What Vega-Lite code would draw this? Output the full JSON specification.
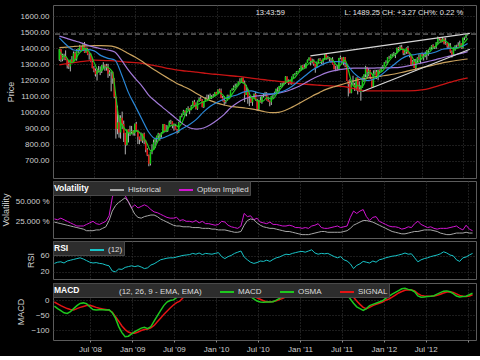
{
"$schema":"https://vega.github.io/schema/vega-lite/v6.json",
"background":"#000000",
"padding":{"left":0,"top":4,"right":4,"bottom":2},
"spacing":1,
"config":{
 "view":{"stroke":"#5c5c5c","strokeWidth":1},
 "font":"Liberation Sans",
 "axis":{"domain":false,"ticks":false,"grid":true,"gridColor":"#3a3a3a","gridDash":[1,2],"labelColor":"#cfcfcf","labelFont":"Liberation Sans","labelFontSize":8,"labelPadding":4,"labelOverlap":false,"titleColor":"#cfcfcf","titleFont":"Liberation Sans","titleFontSize":9,"titleFontWeight":"normal","titlePadding":5},
 "legend":{"orient":"top-left","direction":"horizontal","titleOrient":"left","fillColor":"#2d2d2d","strokeColor":"#4a4a4a","padding":1,"offset":0,"symbolType":"stroke","symbolSize":196,"symbolStrokeWidth":2,"labelColor":"#dddddd","labelFont":"Liberation Sans","labelFontSize":8,"titleColor":"#ffffff","titleFont":"Liberation Sans","titleFontSize":8.5,"titleFontWeight":"bold","titlePadding":20,"columnPadding":14,"labelOffset":3}
},
"resolve":{"scale":{"color":"independent","x":"independent","y":"independent"},"legend":{"color":"independent"}},
"datasets":{
"w":[
{"d":"2008-01-28","o":1330,"h":1396,"l":1322,"c":1395},{"d":"2008-02-04","o":1395,"h":1396,"l":1316,"c":1331},{"d":"2008-02-11","o":1331,"h":1367,"l":1320,"c":1349},{"d":"2008-02-18","o":1349,"h":1367,"l":1327,"c":1353},{"d":"2008-02-25","o":1353,"h":1388,"l":1327,"c":1331},{"d":"2008-03-03","o":1331,"h":1335,"l":1275,"c":1294},{"d":"2008-03-10","o":1294,"h":1321,"l":1272,"c":1288},{"d":"2008-03-17","o":1288,"h":1330,"l":1257,"c":1330},{"d":"2008-03-24","o":1330,"h":1352,"l":1310,"c":1316},{"d":"2008-03-31","o":1316,"h":1381,"l":1315,"c":1370},{"d":"2008-04-07","o":1370,"h":1380,"l":1327,"c":1333},{"d":"2008-04-14","o":1333,"h":1395,"l":1324,"c":1390},{"d":"2008-04-21","o":1390,"h":1400,"l":1370,"c":1398},{"d":"2008-04-28","o":1398,"h":1422,"l":1384,"c":1413},{"d":"2008-05-05","o":1413,"h":1415,"l":1384,"c":1388},{"d":"2008-05-12","o":1388,"h":1426,"l":1386,"c":1425},{"d":"2008-05-19","o":1425,"h":1440,"l":1373,"c":1375},{"d":"2008-05-26","o":1375,"h":1406,"l":1373,"c":1400},{"d":"2008-06-02","o":1400,"h":1404,"l":1358,"c":1361},{"d":"2008-06-09","o":1361,"h":1370,"l":1330,"c":1360},{"d":"2008-06-16","o":1360,"h":1370,"l":1314,"c":1318},{"d":"2008-06-23","o":1318,"h":1336,"l":1276,"c":1278},{"d":"2008-06-30","o":1278,"h":1290,"l":1252,"c":1262},{"d":"2008-07-07","o":1262,"h":1275,"l":1225,"c":1239},{"d":"2008-07-14","o":1239,"h":1266,"l":1200,"c":1260},{"d":"2008-07-21","o":1260,"h":1291,"l":1250,"c":1257},{"d":"2008-07-28","o":1257,"h":1288,"l":1234,"c":1260},{"d":"2008-08-04","o":1260,"h":1297,"l":1247,"c":1296},{"d":"2008-08-11","o":1296,"h":1314,"l":1275,"c":1298},{"d":"2008-08-18","o":1298,"h":1300,"l":1261,"c":1293},{"d":"2008-08-25","o":1293,"h":1304,"l":1262,"c":1283},{"d":"2008-09-01","o":1283,"h":1304,"l":1217,"c":1242},{"d":"2008-09-08","o":1242,"h":1265,"l":1228,"c":1252},{"d":"2008-09-15","o":1252,"h":1256,"l":1133,"c":1255},{"d":"2008-09-22","o":1255,"h":1255,"l":1180,"c":1213},{"d":"2008-09-29","o":1213,"h":1214,"l":1090,"c":1099},{"d":"2008-10-06","o":1099,"h":1099,"l":839,"c":899},{"d":"2008-10-13","o":899,"h":1044,"l":866,"c":940},{"d":"2008-10-20","o":940,"h":985,"l":845,"c":877},{"d":"2008-10-27","o":877,"h":984,"l":839,"c":968},{"d":"2008-11-03","o":968,"h":1007,"l":899,"c":930},{"d":"2008-11-10","o":930,"h":951,"l":818,"c":873},{"d":"2008-11-17","o":873,"h":875,"l":741,"c":800},{"d":"2008-11-24","o":800,"h":896,"l":796,"c":896},{"d":"2008-12-01","o":896,"h":896,"l":815,"c":876},{"d":"2008-12-08","o":876,"h":919,"l":855,"c":879},{"d":"2008-12-15","o":879,"h":918,"l":869,"c":887},{"d":"2008-12-22","o":887,"h":892,"l":858,"c":872},{"d":"2008-12-29","o":872,"h":932,"l":857,"c":931},
{"d":"2009-01-05","o":931,"h":943,"l":883,"c":890},{"d":"2009-01-12","o":890,"h":891,"l":805,"c":850},{"d":"2009-01-19","o":850,"h":851,"l":804,"c":832},{"d":"2009-01-26","o":832,"h":877,"l":821,"c":826},{"d":"2009-02-02","o":826,"h":870,"l":812,"c":869},{"d":"2009-02-09","o":869,"h":876,"l":804,"c":827},{"d":"2009-02-16","o":827,"h":828,"l":754,"c":770},{"d":"2009-02-23","o":770,"h":780,"l":730,"c":735},{"d":"2009-03-02","o":735,"h":740,"l":667,"c":683},{"d":"2009-03-09","o":683,"h":758,"l":672,"c":756},{"d":"2009-03-16","o":756,"h":804,"l":742,"c":768},{"d":"2009-03-23","o":768,"h":833,"l":768,"c":816},{"d":"2009-03-30","o":816,"h":845,"l":780,"c":843},{"d":"2009-04-06","o":843,"h":857,"l":814,"c":857},{"d":"2009-04-13","o":857,"h":875,"l":836,"c":870},{"d":"2009-04-20","o":870,"h":872,"l":826,"c":866},{"d":"2009-04-27","o":866,"h":878,"l":845,"c":877},{"d":"2009-05-04","o":877,"h":930,"l":871,"c":929},{"d":"2009-05-11","o":929,"h":930,"l":878,"c":883},{"d":"2009-05-18","o":883,"h":924,"l":879,"c":887},{"d":"2009-05-25","o":887,"h":920,"l":881,"c":919},{"d":"2009-06-01","o":919,"h":951,"l":916,"c":940},{"d":"2009-06-08","o":940,"h":956,"l":928,"c":946},{"d":"2009-06-15","o":946,"h":946,"l":903,"c":921},{"d":"2009-06-22","o":921,"h":934,"l":888,"c":918},{"d":"2009-06-29","o":918,"h":931,"l":896,"c":896},{"d":"2009-07-06","o":896,"h":899,"l":869,"c":879},{"d":"2009-07-13","o":879,"h":943,"l":875,"c":940},{"d":"2009-07-20","o":940,"h":980,"l":940,"c":979},{"d":"2009-07-27","o":979,"h":996,"l":971,"c":987},{"d":"2009-08-03","o":987,"h":1018,"l":987,"c":1010},{"d":"2009-08-10","o":1010,"h":1015,"l":980,"c":1005},{"d":"2009-08-17","o":1005,"h":1028,"l":978,"c":1026},{"d":"2009-08-24","o":1026,"h":1040,"l":1016,"c":1029},{"d":"2009-08-31","o":1029,"h":1029,"l":991,"c":1016},{"d":"2009-09-07","o":1016,"h":1049,"l":1016,"c":1042},{"d":"2009-09-14","o":1042,"h":1074,"l":1040,"c":1068},{"d":"2009-09-21","o":1068,"h":1080,"l":1040,"c":1044},{"d":"2009-09-28","o":1044,"h":1064,"l":1020,"c":1025},{"d":"2009-10-05","o":1025,"h":1076,"l":1018,"c":1071},{"d":"2009-10-12","o":1071,"h":1096,"l":1067,"c":1087},{"d":"2009-10-19","o":1087,"h":1101,"l":1074,"c":1080},{"d":"2009-10-26","o":1080,"h":1084,"l":1033,"c":1036},{"d":"2009-11-02","o":1036,"h":1071,"l":1029,"c":1069},{"d":"2009-11-09","o":1069,"h":1097,"l":1069,"c":1093},{"d":"2009-11-16","o":1093,"h":1113,"l":1085,"c":1091},{"d":"2009-11-23","o":1091,"h":1112,"l":1079,"c":1091},{"d":"2009-11-30","o":1091,"h":1119,"l":1086,"c":1106},{"d":"2009-12-07","o":1106,"h":1110,"l":1085,"c":1106},{"d":"2009-12-14","o":1106,"h":1117,"l":1095,"c":1102},{"d":"2009-12-21","o":1102,"h":1129,"l":1102,"c":1127},{"d":"2009-12-28","o":1127,"h":1130,"l":1115,"c":1115},
{"d":"2010-01-04","o":1115,"h":1145,"l":1115,"c":1145},{"d":"2010-01-11","o":1145,"h":1150,"l":1131,"c":1136},{"d":"2010-01-18","o":1136,"h":1150,"l":1091,"c":1092},{"d":"2010-01-25","o":1092,"h":1104,"l":1071,"c":1074},{"d":"2010-02-01","o":1074,"h":1104,"l":1044,"c":1066},{"d":"2010-02-08","o":1066,"h":1079,"l":1056,"c":1075},{"d":"2010-02-15","o":1075,"h":1112,"l":1075,"c":1109},{"d":"2010-02-22","o":1109,"h":1112,"l":1086,"c":1105},{"d":"2010-03-01","o":1105,"h":1139,"l":1105,"c":1139},{"d":"2010-03-08","o":1139,"h":1151,"l":1137,"c":1150},{"d":"2010-03-15","o":1150,"h":1170,"l":1142,"c":1160},{"d":"2010-03-22","o":1160,"h":1181,"l":1155,"c":1167},{"d":"2010-03-29","o":1167,"h":1182,"l":1161,"c":1179},{"d":"2010-04-05","o":1179,"h":1194,"l":1175,"c":1194},{"d":"2010-04-12","o":1194,"h":1214,"l":1186,"c":1192},{"d":"2010-04-19","o":1192,"h":1217,"l":1187,"c":1217},{"d":"2010-04-26","o":1217,"h":1220,"l":1181,"c":1187},{"d":"2010-05-03","o":1187,"h":1200,"l":1066,"c":1111},{"d":"2010-05-10","o":1111,"h":1174,"l":1111,"c":1136},{"d":"2010-05-17","o":1136,"h":1148,"l":1056,"c":1088},{"d":"2010-05-24","o":1088,"h":1104,"l":1041,"c":1089},{"d":"2010-05-31","o":1089,"h":1106,"l":1061,"c":1065},{"d":"2010-06-07","o":1065,"h":1092,"l":1043,"c":1092},{"d":"2010-06-14","o":1092,"h":1120,"l":1090,"c":1117},{"d":"2010-06-21","o":1117,"h":1131,"l":1074,"c":1076},{"d":"2010-06-28","o":1076,"h":1087,"l":1011,"c":1022},{"d":"2010-07-05","o":1022,"h":1078,"l":1011,"c":1078},{"d":"2010-07-12","o":1078,"h":1100,"l":1063,"c":1065},{"d":"2010-07-19","o":1065,"h":1103,"l":1056,"c":1102},{"d":"2010-07-26","o":1102,"h":1120,"l":1095,"c":1102},{"d":"2010-08-02","o":1102,"h":1130,"l":1102,"c":1121},{"d":"2010-08-09","o":1121,"h":1128,"l":1076,"c":1079},{"d":"2010-08-16","o":1079,"h":1100,"l":1068,"c":1071},{"d":"2010-08-23","o":1071,"h":1076,"l":1040,"c":1065},{"d":"2010-08-30","o":1065,"h":1105,"l":1048,"c":1104},{"d":"2010-09-06","o":1104,"h":1111,"l":1091,"c":1110},{"d":"2010-09-13","o":1110,"h":1131,"l":1108,"c":1125},{"d":"2010-09-20","o":1125,"h":1149,"l":1122,"c":1149},{"d":"2010-09-27","o":1149,"h":1158,"l":1131,"c":1147},{"d":"2010-10-04","o":1147,"h":1167,"l":1131,"c":1166},{"d":"2010-10-11","o":1166,"h":1184,"l":1160,"c":1176},{"d":"2010-10-18","o":1176,"h":1186,"l":1159,"c":1183},{"d":"2010-10-25","o":1183,"h":1196,"l":1171,"c":1183},{"d":"2010-11-01","o":1183,"h":1227,"l":1179,"c":1225},{"d":"2010-11-08","o":1225,"h":1226,"l":1194,"c":1200},{"d":"2010-11-15","o":1200,"h":1207,"l":1173,"c":1199},{"d":"2010-11-22","o":1199,"h":1204,"l":1176,"c":1189},{"d":"2010-11-29","o":1189,"h":1225,"l":1174,"c":1224},{"d":"2010-12-06","o":1224,"h":1241,"l":1217,"c":1240},{"d":"2010-12-13","o":1240,"h":1247,"l":1232,"c":1244},{"d":"2010-12-20","o":1244,"h":1259,"l":1241,"c":1257},{"d":"2010-12-27","o":1257,"h":1261,"l":1251,"c":1258},
{"d":"2011-01-03","o":1258,"h":1278,"l":1257,"c":1271},{"d":"2011-01-10","o":1271,"h":1294,"l":1262,"c":1293},{"d":"2011-01-17","o":1293,"h":1296,"l":1271,"c":1283},{"d":"2011-01-24","o":1283,"h":1302,"l":1275,"c":1276},{"d":"2011-01-31","o":1276,"h":1311,"l":1276,"c":1310},{"d":"2011-02-07","o":1310,"h":1331,"l":1310,"c":1329},{"d":"2011-02-14","o":1329,"h":1344,"l":1324,"c":1343},{"d":"2011-02-21","o":1343,"h":1343,"l":1294,"c":1320},{"d":"2011-02-28","o":1320,"h":1336,"l":1306,"c":1321},{"d":"2011-03-07","o":1321,"h":1332,"l":1292,"c":1304},{"d":"2011-03-14","o":1304,"h":1304,"l":1249,"c":1279},{"d":"2011-03-21","o":1279,"h":1319,"l":1279,"c":1313},{"d":"2011-03-28","o":1313,"h":1337,"l":1307,"c":1332},{"d":"2011-04-04","o":1332,"h":1340,"l":1322,"c":1328},{"d":"2011-04-11","o":1328,"h":1329,"l":1303,"c":1320},{"d":"2011-04-18","o":1320,"h":1338,"l":1295,"c":1337},{"d":"2011-04-25","o":1337,"h":1364,"l":1331,"c":1364},{"d":"2011-05-02","o":1364,"h":1370,"l":1330,"c":1340},{"d":"2011-05-09","o":1340,"h":1354,"l":1332,"c":1338},{"d":"2011-05-16","o":1338,"h":1346,"l":1318,"c":1333},{"d":"2011-05-23","o":1333,"h":1334,"l":1311,"c":1331},{"d":"2011-05-30","o":1331,"h":1346,"l":1300,"c":1300},{"d":"2011-06-06","o":1300,"h":1302,"l":1270,"c":1271},{"d":"2011-06-13","o":1271,"h":1292,"l":1258,"c":1271},{"d":"2011-06-20","o":1271,"h":1298,"l":1262,"c":1268},{"d":"2011-06-27","o":1268,"h":1341,"l":1268,"c":1340},{"d":"2011-07-04","o":1340,"h":1356,"l":1333,"c":1344},{"d":"2011-07-11","o":1344,"h":1344,"l":1307,"c":1316},{"d":"2011-07-18","o":1316,"h":1347,"l":1295,"c":1345},{"d":"2011-07-25","o":1345,"h":1346,"l":1283,"c":1292},{"d":"2011-08-01","o":1292,"h":1307,"l":1199,"c":1199},{"d":"2011-08-08","o":1199,"h":1200,"l":1101,"c":1179},{"d":"2011-08-15","o":1179,"h":1208,"l":1120,"c":1124},{"d":"2011-08-22","o":1124,"h":1191,"l":1121,"c":1177},{"d":"2011-08-29","o":1177,"h":1230,"l":1170,"c":1174},{"d":"2011-09-05","o":1174,"h":1186,"l":1136,"c":1154},{"d":"2011-09-12","o":1154,"h":1220,"l":1137,"c":1216},{"d":"2011-09-19","o":1216,"h":1220,"l":1114,"c":1136},{"d":"2011-09-26","o":1136,"h":1195,"l":1129,"c":1131},{"d":"2011-10-03","o":1131,"h":1171,"l":1075,"c":1155},{"d":"2011-10-10","o":1155,"h":1224,"l":1155,"c":1224},{"d":"2011-10-17","o":1224,"h":1239,"l":1191,"c":1238},{"d":"2011-10-24","o":1238,"h":1292,"l":1221,"c":1285},{"d":"2011-10-31","o":1285,"h":1285,"l":1215,"c":1253},{"d":"2011-11-07","o":1253,"h":1277,"l":1226,"c":1263},{"d":"2011-11-14","o":1263,"h":1267,"l":1209,"c":1216},{"d":"2011-11-21","o":1216,"h":1216,"l":1158,"c":1159},{"d":"2011-11-28","o":1159,"h":1264,"l":1159,"c":1244},{"d":"2011-12-05","o":1244,"h":1267,"l":1231,"c":1255},{"d":"2011-12-12","o":1255,"h":1266,"l":1209,"c":1219},{"d":"2011-12-19","o":1219,"h":1268,"l":1202,"c":1265},{"d":"2011-12-26","o":1265,"h":1269,"l":1248,"c":1258},
{"d":"2012-01-02","o":1258,"h":1285,"l":1258,"c":1278},{"d":"2012-01-09","o":1278,"h":1297,"l":1275,"c":1289},{"d":"2012-01-16","o":1289,"h":1315,"l":1289,"c":1315},{"d":"2012-01-23","o":1315,"h":1326,"l":1306,"c":1316},{"d":"2012-01-30","o":1316,"h":1345,"l":1300,"c":1345},{"d":"2012-02-06","o":1345,"h":1354,"l":1335,"c":1343},{"d":"2012-02-13","o":1343,"h":1363,"l":1340,"c":1361},{"d":"2012-02-20","o":1361,"h":1368,"l":1352,"c":1366},{"d":"2012-02-27","o":1366,"h":1378,"l":1354,"c":1370},{"d":"2012-03-05","o":1370,"h":1372,"l":1340,"c":1371},{"d":"2012-03-12","o":1371,"h":1405,"l":1370,"c":1404},{"d":"2012-03-19","o":1404,"h":1409,"l":1386,"c":1397},{"d":"2012-03-26","o":1397,"h":1420,"l":1391,"c":1408},{"d":"2012-04-02","o":1408,"h":1422,"l":1392,"c":1398},{"d":"2012-04-09","o":1398,"h":1398,"l":1358,"c":1370},{"d":"2012-04-16","o":1370,"h":1392,"l":1358,"c":1378},{"d":"2012-04-23","o":1378,"h":1406,"l":1366,"c":1403},{"d":"2012-04-30","o":1403,"h":1415,"l":1367,"c":1369},{"d":"2012-05-07","o":1369,"h":1370,"l":1344,"c":1353},{"d":"2012-05-14","o":1353,"h":1354,"l":1291,"c":1295},{"d":"2012-05-21","o":1295,"h":1328,"l":1295,"c":1318},{"d":"2012-05-28","o":1318,"h":1334,"l":1278,"c":1278},{"d":"2012-06-04","o":1278,"h":1335,"l":1267,"c":1325},{"d":"2012-06-11","o":1325,"h":1345,"l":1306,"c":1343},{"d":"2012-06-18","o":1343,"h":1364,"l":1324,"c":1335},{"d":"2012-06-25","o":1335,"h":1362,"l":1306,"c":1362},{"d":"2012-07-02","o":1362,"h":1375,"l":1348,"c":1355},{"d":"2012-07-09","o":1355,"h":1365,"l":1325,"c":1357},{"d":"2012-07-16","o":1357,"h":1380,"l":1345,"c":1363},{"d":"2012-07-23","o":1363,"h":1390,"l":1329,"c":1386},{"d":"2012-07-30","o":1386,"h":1394,"l":1354,"c":1391},{"d":"2012-08-06","o":1391,"h":1406,"l":1391,"c":1405},{"d":"2012-08-13","o":1405,"h":1420,"l":1397,"c":1418},{"d":"2012-08-20","o":1418,"h":1426,"l":1398,"c":1411},{"d":"2012-08-27","o":1411,"h":1413,"l":1397,"c":1407},{"d":"2012-09-03","o":1407,"h":1438,"l":1397,"c":1438},{"d":"2012-09-10","o":1438,"h":1474,"l":1429,"c":1466},{"d":"2012-09-17","o":1466,"h":1467,"l":1449,"c":1460},{"d":"2012-09-24","o":1460,"h":1460,"l":1435,"c":1441},{"d":"2012-10-01","o":1441,"h":1470,"l":1439,"c":1461},{"d":"2012-10-08","o":1461,"h":1464,"l":1425,"c":1429},{"d":"2012-10-15","o":1429,"h":1466,"l":1423,"c":1433},{"d":"2012-10-22","o":1433,"h":1435,"l":1403,"c":1412},{"d":"2012-10-29","o":1412,"h":1434,"l":1403,"c":1414},{"d":"2012-11-05","o":1414,"h":1433,"l":1373,"c":1380},{"d":"2012-11-12","o":1380,"h":1388,"l":1343,"c":1360},{"d":"2012-11-19","o":1360,"h":1409,"l":1360,"c":1409},{"d":"2012-11-26","o":1409,"h":1420,"l":1385,"c":1416},{"d":"2012-12-03","o":1416,"h":1423,"l":1398,"c":1418},{"d":"2012-12-10","o":1418,"h":1438,"l":1412,"c":1413},{"d":"2012-12-17","o":1413,"h":1448,"l":1412,"c":1430},{"d":"2012-12-24","o":1430,"h":1431,"l":1398,"c":1402},{"d":"2012-12-31","o":1402,"h":1467,"l":1398,"c":1466},{"d":"2013-01-07","o":1466,"h":1472,"l":1451,"c":1472},{"d":"2013-01-14","o":1472,"h":1486,"l":1463,"c":1486},{"d":"2013-01-21","o":1486,"h":1490,"l":1481,"c":1489}
],
"i":[
{"d":"2008-01-28","g":1385,"hv":24,"iv":28,"rsi":41,"m":-20,"s":-6},{"d":"2008-02-11","g":1355,"hv":23,"iv":27,"rsi":44,"m":-28,"s":-12},{"d":"2008-02-25","g":1350,"hv":22,"iv":29,"rsi":45,"m":-35,"s":-18},{"d":"2008-03-10","g":1323,"hv":21,"iv":27,"rsi":42,"m":-42,"s":-23},{"d":"2008-03-24","g":1312,"hv":20,"iv":25,"rsi":47,"m":-44,"s":-28},{"d":"2008-04-07","g":1327,"hv":19,"iv":23,"rsi":49,"m":-38,"s":-31},{"d":"2008-04-21","g":1361,"hv":18,"iv":21,"rsi":51,"m":-28,"s":-33},{"d":"2008-05-05","g":1384,"hv":17,"iv":19,"rsi":53,"m":-18,"s":-28},{"d":"2008-05-19","g":1400,"hv":16,"iv":19,"rsi":55,"m":-11,"s":-24},{"d":"2008-06-02","g":1390,"hv":15,"iv":19,"rsi":52,"m":-9,"s":-21},{"d":"2008-06-16","g":1363,"hv":13,"iv":21,"rsi":48,"m":-12,"s":-18},{"d":"2008-06-30","g":1316,"hv":13,"iv":23,"rsi":44,"m":-22,"s":-17},{"d":"2008-07-14","g":1271,"hv":13,"iv":25,"rsi":42,"m":-31,"s":-20},{"d":"2008-07-28","g":1256,"hv":14,"iv":22,"rsi":43,"m":-33,"s":-24},{"d":"2008-08-11","g":1274,"hv":14,"iv":21,"rsi":41,"m":-32,"s":-27},{"d":"2008-08-25","g":1286,"hv":16,"iv":23,"rsi":40,"m":-32,"s":-29},{"d":"2008-09-08","g":1274,"hv":18,"iv":25,"rsi":37,"m":-33,"s":-31},{"d":"2008-09-22","g":1249,"hv":26,"iv":32,"rsi":35,"m":-32,"s":-33},{"d":"2008-10-06","g":1100,"hv":38,"iv":55,"rsi":22,"m":-42,"s":-40},{"d":"2008-10-20","g":960,"hv":45,"iv":70,"rsi":20,"m":-60,"s":-55},{"d":"2008-11-03","g":923,"hv":49,"iv":60,"rsi":27,"m":-88,"s":-70},{"d":"2008-11-17","g":895,"hv":52,"iv":68,"rsi":26,"m":-108,"s":-86},{"d":"2008-12-01","g":875,"hv":55,"iv":58,"rsi":31,"m":-122,"s":-98},{"d":"2008-12-15","g":868,"hv":50,"iv":50,"rsi":33,"m":-120,"s":-106},{"d":"2008-12-29","g":889,"hv":42,"iv":42,"rsi":35,"m":-112,"s":-110},
{"d":"2009-01-12","g":886,"hv":34,"iv":46,"rsi":33,"m":-105,"s":-110},{"d":"2009-01-26","g":866,"hv":30,"iv":42,"rsi":35,"m":-99,"s":-106},{"d":"2009-02-09","g":841,"hv":29,"iv":44,"rsi":32,"m":-93,"s":-101},{"d":"2009-02-23","g":805,"hv":31,"iv":46,"rsi":28,"m":-90,"s":-98},{"d":"2009-03-09","g":765,"hv":32,"iv":44,"rsi":30,"m":-95,"s":-96},{"d":"2009-03-23","g":770,"hv":33,"iv":40,"rsi":37,"m":-88,"s":-92},{"d":"2009-04-06","g":808,"hv":33,"iv":37,"rsi":40,"m":-70,"s":-84},{"d":"2009-04-20","g":850,"hv":31,"iv":36,"rsi":45,"m":-52,"s":-72},{"d":"2009-05-04","g":880,"hv":28,"iv":34,"rsi":50,"m":-35,"s":-60},{"d":"2009-05-18","g":888,"hv":26,"iv":32,"rsi":52,"m":-18,"s":-48},{"d":"2009-06-01","g":912,"hv":24,"iv":30,"rsi":54,"m":-6,"s":-37},{"d":"2009-06-15","g":923,"hv":22,"iv":29,"rsi":55,"m":-1,"s":-26},{"d":"2009-06-29","g":924,"hv":20,"iv":29,"rsi":55,"m":1,"s":-16},{"d":"2009-07-13","g":911,"hv":19,"iv":30,"rsi":57,"m":8,"s":-8},{"d":"2009-07-27","g":936,"hv":19,"iv":26,"rsi":59,"m":20,"s":-3},{"d":"2009-08-10","g":984,"hv":18,"iv":27,"rsi":61,"m":30,"s":8},{"d":"2009-08-24","g":1011,"hv":18,"iv":25,"rsi":62,"m":37,"s":18},{"d":"2009-09-07","g":1024,"hv":18,"iv":25,"rsi":63,"m":40,"s":27},{"d":"2009-09-21","g":1040,"hv":17,"iv":24,"rsi":66,"m":40,"s":32},{"d":"2009-10-05","g":1050,"hv":17,"iv":26,"rsi":64,"m":40,"s":36},{"d":"2009-10-19","g":1061,"hv":17,"iv":23,"rsi":67,"m":39,"s":38},{"d":"2009-11-02","g":1069,"hv":16,"iv":25,"rsi":63,"m":38,"s":39},{"d":"2009-11-16","g":1074,"hv":16,"iv":22,"rsi":66,"m":38,"s":39},{"d":"2009-11-30","g":1090,"hv":16,"iv":22,"rsi":65,"m":37,"s":39},{"d":"2009-12-14","g":1099,"hv":15,"iv":21,"rsi":64,"m":36,"s":39},{"d":"2009-12-28","g":1111,"hv":15,"iv":20,"rsi":66,"m":35,"s":38},
{"d":"2010-01-11","g":1125,"hv":14,"iv":21,"rsi":68,"m":34,"s":37},{"d":"2010-01-25","g":1112,"hv":14,"iv":25,"rsi":58,"m":28,"s":35},{"d":"2010-02-08","g":1089,"hv":14,"iv":24,"rsi":53,"m":25,"s":32},{"d":"2010-02-22","g":1086,"hv":13,"iv":20,"rsi":58,"m":24,"s":30},{"d":"2010-03-08","g":1116,"hv":12,"iv":18,"rsi":61,"m":24,"s":28},{"d":"2010-03-22","g":1144,"hv":11,"iv":17,"rsi":66,"m":28,"s":28},{"d":"2010-04-05","g":1170,"hv":11,"iv":16,"rsi":69,"m":34,"s":29},{"d":"2010-04-19","g":1190,"hv":12,"iv":19,"rsi":72,"m":38,"s":31},{"d":"2010-05-03","g":1180,"hv":20,"iv":35,"rsi":57,"m":30,"s":31},{"d":"2010-05-17","g":1148,"hv":26,"iv":31,"rsi":50,"m":20,"s":27},{"d":"2010-05-31","g":1098,"hv":28,"iv":32,"rsi":44,"m":12,"s":21},{"d":"2010-06-14","g":1090,"hv":27,"iv":27,"rsi":41,"m":4,"s":14},{"d":"2010-06-28","g":1074,"hv":23,"iv":29,"rsi":43,"m":-3,"s":8},{"d":"2010-07-12","g":1072,"hv":20,"iv":24,"rsi":47,"m":-6,"s":3},{"d":"2010-07-26","g":1074,"hv":18,"iv":23,"rsi":46,"m":-7,"s":-2},{"d":"2010-08-09","g":1094,"hv":17,"iv":22,"rsi":49,"m":-6,"s":-5},{"d":"2010-08-23","g":1088,"hv":16,"iv":24,"rsi":46,"m":-6,"s":-5},{"d":"2010-09-06","g":1086,"hv":16,"iv":21,"rsi":51,"m":-5,"s":-4},{"d":"2010-09-20","g":1111,"hv":15,"iv":21,"rsi":55,"m":0,"s":-2},{"d":"2010-10-04","g":1139,"hv":14,"iv":20,"rsi":57,"m":6,"s":2},{"d":"2010-10-18","g":1164,"hv":13,"iv":19,"rsi":61,"m":12,"s":6},{"d":"2010-11-01","g":1187,"hv":12,"iv":19,"rsi":64,"m":17,"s":11},{"d":"2010-11-15","g":1198,"hv":12,"iv":20,"rsi":63,"m":22,"s":16},{"d":"2010-11-29","g":1207,"hv":11,"iv":19,"rsi":66,"m":28,"s":22},{"d":"2010-12-13","g":1219,"hv":10,"iv":17,"rsi":68,"m":33,"s":28},{"d":"2010-12-27","g":1245,"hv":9,"iv":17,"rsi":70,"m":38,"s":32},
{"d":"2011-01-10","g":1265,"hv":8,"iv":16,"rsi":71,"m":42,"s":36},{"d":"2011-01-24","g":1276,"hv":8,"iv":17,"rsi":69,"m":45,"s":39},{"d":"2011-02-07","g":1298,"hv":8,"iv":16,"rsi":72,"m":48,"s":42},{"d":"2011-02-21","g":1316,"hv":9,"iv":19,"rsi":75,"m":50,"s":44},{"d":"2011-03-07","g":1323,"hv":10,"iv":20,"rsi":67,"m":48,"s":45},{"d":"2011-03-21","g":1307,"hv":11,"iv":22,"rsi":64,"m":43,"s":44},{"d":"2011-04-04","g":1311,"hv":12,"iv":17,"rsi":66,"m":40,"s":42},{"d":"2011-04-18","g":1326,"hv":12,"iv":16,"rsi":65,"m":39,"s":41},{"d":"2011-05-02","g":1338,"hv":11,"iv":16,"rsi":66,"m":40,"s":40},{"d":"2011-05-16","g":1342,"hv":11,"iv":17,"rsi":62,"m":38,"s":40},{"d":"2011-05-30","g":1328,"hv":11,"iv":18,"rsi":58,"m":35,"s":39},{"d":"2011-06-13","g":1301,"hv":11,"iv":19,"rsi":55,"m":32,"s":37},{"d":"2011-06-27","g":1290,"hv":11,"iv":17,"rsi":58,"m":30,"s":35},{"d":"2011-07-11","g":1308,"hv":12,"iv":18,"rsi":50,"m":26,"s":32},{"d":"2011-07-25","g":1327,"hv":13,"iv":19,"rsi":47,"m":18,"s":28},{"d":"2011-08-08","g":1266,"hv":16,"iv":30,"rsi":40,"m":4,"s":20},{"d":"2011-08-22","g":1194,"hv":20,"iv":38,"rsi":28,"m":-10,"s":10},{"d":"2011-09-05","g":1162,"hv":22,"iv":35,"rsi":36,"m":-22,"s":-3},{"d":"2011-09-19","g":1171,"hv":24,"iv":38,"rsi":40,"m":-28,"s":-14},{"d":"2011-10-03","g":1158,"hv":26,"iv":40,"rsi":46,"m":-34,"s":-24},{"d":"2011-10-17","g":1177,"hv":26,"iv":31,"rsi":44,"m":-28,"s":-28},{"d":"2011-10-31","g":1231,"hv":25,"iv":26,"rsi":42,"m":-18,"s":-24},{"d":"2011-11-14","g":1251,"hv":24,"iv":30,"rsi":47,"m":-14,"s":-18},{"d":"2011-11-28","g":1227,"hv":22,"iv":31,"rsi":44,"m":-10,"s":-14},{"d":"2011-12-12","g":1219,"hv":20,"iv":25,"rsi":50,"m":-6,"s":-10},{"d":"2011-12-26","g":1248,"hv":18,"iv":23,"rsi":52,"m":-2,"s":-6},
{"d":"2012-01-09","g":1262,"hv":16,"iv":21,"rsi":55,"m":6,"s":0},{"d":"2012-01-23","g":1291,"hv":14,"iv":19,"rsi":57,"m":13,"s":4},{"d":"2012-02-06","g":1322,"hv":12,"iv":18,"rsi":59,"m":20,"s":10},{"d":"2012-02-20","g":1346,"hv":11,"iv":18,"rsi":60,"m":26,"s":17},{"d":"2012-03-05","g":1362,"hv":10,"iv":17,"rsi":62,"m":32,"s":24},{"d":"2012-03-19","g":1382,"hv":9,"iv":15,"rsi":64,"m":38,"s":29},{"d":"2012-04-02","g":1396,"hv":9,"iv":16,"rsi":67,"m":40,"s":33},{"d":"2012-04-16","g":1390,"hv":10,"iv":18,"rsi":64,"m":36,"s":35},{"d":"2012-04-30","g":1384,"hv":11,"iv":17,"rsi":65,"m":34,"s":34},{"d":"2012-05-14","g":1360,"hv":12,"iv":22,"rsi":55,"m":28,"s":31},{"d":"2012-05-28","g":1323,"hv":12,"iv":25,"rsi":45,"m":14,"s":22},{"d":"2012-06-11","g":1312,"hv":13,"iv":21,"rsi":50,"m":10,"s":16},{"d":"2012-06-25","g":1329,"hv":14,"iv":19,"rsi":53,"m":11,"s":14},{"d":"2012-07-09","g":1350,"hv":14,"iv":17,"rsi":55,"m":12,"s":13},{"d":"2012-07-23","g":1365,"hv":14,"iv":18,"rsi":58,"m":13,"s":13},{"d":"2012-08-06","g":1380,"hv":13,"iv":16,"rsi":60,"m":15,"s":14},{"d":"2012-08-20","g":1402,"hv":12,"iv":15,"rsi":62,"m":20,"s":16},{"d":"2012-09-03","g":1416,"hv":10,"iv":16,"rsi":65,"m":25,"s":20},{"d":"2012-09-17","g":1436,"hv":9,"iv":16,"rsi":70,"m":30,"s":24},{"d":"2012-10-01","g":1453,"hv":8,"iv":16,"rsi":67,"m":31,"s":27},{"d":"2012-10-15","g":1445,"hv":8,"iv":17,"rsi":62,"m":28,"s":28},{"d":"2012-10-29","g":1430,"hv":9,"iv":18,"rsi":60,"m":22,"s":26},{"d":"2012-11-12","g":1400,"hv":10,"iv":19,"rsi":50,"m":14,"s":21},{"d":"2012-11-26","g":1396,"hv":10,"iv":16,"rsi":46,"m":11,"s":16},{"d":"2012-12-10","g":1403,"hv":10,"iv":14,"rsi":55,"m":12,"s":13},{"d":"2012-12-24","g":1416,"hv":11,"iv":20,"rsi":57,"m":13,"s":12},{"d":"2013-01-07","g":1437,"hv":10,"iv":15,"rsi":62,"m":18,"s":14},{"d":"2013-01-21","g":1463,"hv":10,"iv":13,"rsi":66,"m":23,"s":18}
],
"m":[
{"d":"2008-01-28","b":1466,"p":1476,"y":1405,"r":1297},{"d":"2008-03-01","b":1420,"p":1462,"y":1408,"r":1305},{"d":"2008-04-01","b":1390,"p":1448,"y":1412,"r":1312},{"d":"2008-05-01","b":1385,"p":1436,"y":1415,"r":1318},{"d":"2008-06-01","b":1392,"p":1420,"y":1416,"r":1323},{"d":"2008-07-01","b":1385,"p":1408,"y":1417,"r":1327},{"d":"2008-08-01","b":1355,"p":1398,"y":1417,"r":1326},{"d":"2008-09-01","b":1338,"p":1390,"y":1416,"r":1324},{"d":"2008-10-01","b":1328,"p":1378,"y":1410,"r":1322},{"d":"2008-11-01","b":1235,"p":1325,"y":1392,"r":1318},{"d":"2008-12-01","b":1125,"p":1265,"y":1368,"r":1314},
{"d":"2009-01-01","b":1040,"p":1212,"y":1345,"r":1312},{"d":"2009-02-01","b":955,"p":1163,"y":1318,"r":1307},{"d":"2009-03-01","b":880,"p":1110,"y":1290,"r":1300},{"d":"2009-04-01","b":838,"p":1070,"y":1262,"r":1292},{"d":"2009-05-01","b":842,"p":1035,"y":1236,"r":1283},{"d":"2009-06-01","b":860,"p":1000,"y":1210,"r":1274},{"d":"2009-07-01","b":878,"p":965,"y":1185,"r":1267},{"d":"2009-08-01","b":903,"p":930,"y":1165,"r":1261},{"d":"2009-09-01","b":928,"p":905,"y":1145,"r":1257},{"d":"2009-10-01","b":960,"p":898,"y":1120,"r":1252},{"d":"2009-11-01","b":1005,"p":905,"y":1095,"r":1247},{"d":"2009-12-01","b":1040,"p":925,"y":1075,"r":1242},
{"d":"2010-01-01","b":1065,"p":955,"y":1060,"r":1238},{"d":"2010-02-01","b":1085,"p":990,"y":1048,"r":1234},{"d":"2010-03-01","b":1100,"p":1030,"y":1040,"r":1230},{"d":"2010-04-01","b":1112,"p":1062,"y":1035,"r":1226},{"d":"2010-05-01","b":1130,"p":1085,"y":1030,"r":1221},{"d":"2010-06-01","b":1136,"p":1098,"y":1024,"r":1215},{"d":"2010-07-01","b":1125,"p":1105,"y":1016,"r":1210},{"d":"2010-08-01","b":1118,"p":1110,"y":1006,"r":1205},{"d":"2010-09-01","b":1117,"p":1115,"y":1000,"r":1200},{"d":"2010-10-01","b":1125,"p":1122,"y":1002,"r":1195},{"d":"2010-11-01","b":1140,"p":1132,"y":1015,"r":1190},{"d":"2010-12-01","b":1165,"p":1147,"y":1035,"r":1185},
{"d":"2011-01-01","b":1200,"p":1165,"y":1058,"r":1181},{"d":"2011-02-01","b":1235,"p":1188,"y":1082,"r":1177},{"d":"2011-03-01","b":1265,"p":1210,"y":1104,"r":1174},{"d":"2011-04-01","b":1290,"p":1230,"y":1125,"r":1171},{"d":"2011-05-01","b":1310,"p":1248,"y":1145,"r":1168},{"d":"2011-06-01","b":1318,"p":1260,"y":1160,"r":1166},{"d":"2011-07-01","b":1318,"p":1268,"y":1172,"r":1164},{"d":"2011-08-01","b":1300,"p":1274,"y":1185,"r":1160},{"d":"2011-09-01","b":1248,"p":1277,"y":1198,"r":1150},{"d":"2011-10-01","b":1215,"p":1278,"y":1208,"r":1140},{"d":"2011-11-01","b":1200,"p":1278,"y":1215,"r":1136},{"d":"2011-12-01","b":1210,"p":1278,"y":1222,"r":1136},
{"d":"2012-01-01","b":1235,"p":1279,"y":1228,"r":1136},{"d":"2012-02-01","b":1270,"p":1279,"y":1234,"r":1136},{"d":"2012-03-01","b":1302,"p":1280,"y":1241,"r":1136},{"d":"2012-04-01","b":1335,"p":1284,"y":1250,"r":1136},{"d":"2012-05-01","b":1355,"p":1291,"y":1260,"r":1136},{"d":"2012-06-01","b":1362,"p":1300,"y":1270,"r":1137},{"d":"2012-07-01","b":1370,"p":1310,"y":1280,"r":1142},{"d":"2012-08-01","b":1368,"p":1320,"y":1290,"r":1150},{"d":"2012-09-01","b":1378,"p":1330,"y":1300,"r":1162},{"d":"2012-10-01","b":1395,"p":1342,"y":1310,"r":1175},{"d":"2012-11-01","b":1400,"p":1352,"y":1318,"r":1188},{"d":"2012-12-01","b":1403,"p":1362,"y":1325,"r":1200},{"d":"2013-01-01","b":1415,"p":1372,"y":1331,"r":1210},{"d":"2013-01-21","b":1430,"p":1380,"y":1334,"r":1216}
],
"t":[
{"id":"upper","d":"2011-02-20","v":1353},{"id":"upper","d":"2013-01-31","v":1494},
{"id":"lower","d":"2011-10-10","v":1132},{"id":"lower","d":"2013-01-31","v":1395}
]
},
"vconcat":[
{
"width":423,"height":173,
"layer":[
{"data":{"name":"w"},"mark":{"type":"rule","color":"#b4b4b4","strokeWidth":1},
 "encoding":{
  "x":{"field":"d","type":"temporal","scale":{"domain":[{"year":2008,"month":1,"date":22},{"year":2013,"month":2,"date":5}],"nice":false},
       "axis":{"values":[{"year":2008,"month":7,"date":1},{"year":2009,"month":1,"date":1},{"year":2009,"month":7,"date":1},{"year":2010,"month":1,"date":1},{"year":2010,"month":7,"date":1},{"year":2011,"month":1,"date":1},{"year":2011,"month":7,"date":1},{"year":2012,"month":1,"date":1},{"year":2012,"month":7,"date":1},{"year":2013,"month":1,"date":1}],"tickCount":30,"labels":false,"ticks":false,"tickSize":0,"labelPadding":0,"title":null}},
  "y":{"field":"l","type":"quantitative","scale":{"domain":[594,1670],"nice":false,"zero":false},
       "axis":{"values":[700,800,900,1000,1100,1200,1300,1400,1500,1600],"tickCount":30,"format":".2f","labelOverlap":false,"title":"Price"}},
  "y2":{"field":"h"}}},
{"data":{"name":"w"},"mark":{"type":"bar","width":1.5},
 "encoding":{
  "x":{"field":"d","type":"temporal"},
  "y":{"field":"o","type":"quantitative"},
  "y2":{"field":"c"},
  "color":{"condition":{"test":"datum.c >= datum.o","value":"#12cc12"},"value":"#e81010"}}},
{"data":{"name":"m"},"mark":{"type":"line","color":"#c81414","strokeWidth":1.3,"interpolate":"monotone"},
 "encoding":{"x":{"field":"d","type":"temporal"},"y":{"field":"r","type":"quantitative"}}},
{"data":{"name":"m"},"mark":{"type":"line","color":"#caa25e","strokeWidth":1.2,"interpolate":"monotone"},
 "encoding":{"x":{"field":"d","type":"temporal"},"y":{"field":"y","type":"quantitative"}}},
{"data":{"name":"m"},"mark":{"type":"line","color":"#a27ad8","strokeWidth":1.2,"interpolate":"monotone"},
 "encoding":{"x":{"field":"d","type":"temporal"},"y":{"field":"p","type":"quantitative"}}},
{"data":{"name":"m"},"mark":{"type":"line","color":"#2a88d8","strokeWidth":1.2,"interpolate":"monotone"},
 "encoding":{"x":{"field":"d","type":"temporal"},"y":{"field":"b","type":"quantitative"}}},
{"data":{"name":"i"},"mark":{"type":"line","color":"#1ec81e","strokeWidth":1.2,"interpolate":"monotone"},
 "encoding":{"x":{"field":"d","type":"temporal"},"y":{"field":"g","type":"quantitative"}}},
{"data":{"name":"t"},"mark":{"type":"line","color":"#d6d6d6","strokeWidth":1.2},
 "encoding":{"x":{"field":"d","type":"temporal"},"y":{"field":"v","type":"quantitative"},"detail":{"field":"id"}}},
{"data":{"values":[{}]},"mark":{"type":"rule","color":"#8c8c8c","strokeDash":[5,3],"strokeWidth":1},
 "encoding":{"y":{"datum":1489.25}}},
{"data":{"values":[{}]},"mark":{"type":"text","color":"#e6e6e6","fontSize":7.5,"font":"Liberation Sans","align":"center","baseline":"middle"},
 "encoding":{"x":{"datum":{"year":2010,"month":8,"date":25}},"y":{"datum":1622},"text":{"value":"13:43:59"}}},
{"data":{"values":[{}]},"mark":{"type":"text","color":"#e6e6e6","fontSize":7.5,"font":"Liberation Sans","align":"right","baseline":"middle"},
 "encoding":{"x":{"datum":{"year":2013,"month":1,"date":1}},"y":{"datum":1622},"text":{"value":"L: 1489.25 CH: +3.27 CH%: 0.22 %"}}}
]
},
{
"width":423,"height":57,
"layer":[
{"data":{"name":"i"},"mark":{"type":"line","strokeWidth":1},
 "encoding":{
  "x":{"field":"d","type":"temporal","scale":{"domain":[{"year":2008,"month":1,"date":22},{"year":2013,"month":2,"date":5}],"nice":false},
       "axis":{"values":[{"year":2008,"month":7,"date":1},{"year":2009,"month":1,"date":1},{"year":2009,"month":7,"date":1},{"year":2010,"month":1,"date":1},{"year":2010,"month":7,"date":1},{"year":2011,"month":1,"date":1},{"year":2011,"month":7,"date":1},{"year":2012,"month":1,"date":1},{"year":2012,"month":7,"date":1},{"year":2013,"month":1,"date":1}],"tickCount":30,"labels":false,"ticks":false,"tickSize":0,"labelPadding":0,"title":null}},
  "y":{"field":"iv","type":"quantitative","scale":{"domain":[3.7,76.4],"nice":false,"zero":false},
       "axis":{"values":[25,50],"tickCount":10,"labelExpr":"format(datum.value, '.3f') + ' %'","labelOverlap":false,"title":"Volatility"}},
  "color":{"datum":"Option Implied","type":"nominal","scale":{"domain":["Historical","Option Implied"],"range":["#a8a8a8","#d214d2"]},"legend":{"title":"Volatility"}}}},
{"data":{"name":"i"},"mark":{"type":"line","strokeWidth":1},
 "encoding":{
  "x":{"field":"d","type":"temporal"},
  "y":{"field":"hv","type":"quantitative"},
  "color":{"datum":"Historical","type":"nominal"}}}
]
},
{
"width":423,"height":38,
"data":{"name":"i"},
"mark":{"type":"line","strokeWidth":1},
"encoding":{
  "x":{"field":"d","type":"temporal","scale":{"domain":[{"year":2008,"month":1,"date":22},{"year":2013,"month":2,"date":5}],"nice":false},
       "axis":{"values":[{"year":2008,"month":7,"date":1},{"year":2009,"month":1,"date":1},{"year":2009,"month":7,"date":1},{"year":2010,"month":1,"date":1},{"year":2010,"month":7,"date":1},{"year":2011,"month":1,"date":1},{"year":2011,"month":7,"date":1},{"year":2012,"month":1,"date":1},{"year":2012,"month":7,"date":1},{"year":2013,"month":1,"date":1}],"tickCount":30,"labels":false,"ticks":false,"tickSize":0,"labelPadding":0,"title":null}},
  "y":{"field":"rsi","type":"quantitative","scale":{"domain":[2,97],"nice":false,"zero":false},
       "axis":{"values":[20,60],"tickCount":10,"labelOverlap":false,"title":"RSI"}},
  "color":{"datum":"(12)","type":"nominal","scale":{"domain":["(12)"],"range":["#18c4c8"]},"legend":{"title":"RSI"}}}
},
{
"width":423,"height":57,
"layer":[
{"data":{"name":"i"},"mark":{"type":"line","strokeWidth":1.5},
 "encoding":{
  "x":{"field":"d","type":"temporal","scale":{"domain":[{"year":2008,"month":1,"date":22},{"year":2013,"month":2,"date":5}],"nice":false},
       "axis":{"values":[{"year":2008,"month":7,"date":1},{"year":2009,"month":1,"date":1},{"year":2009,"month":7,"date":1},{"year":2010,"month":1,"date":1},{"year":2010,"month":7,"date":1},{"year":2011,"month":1,"date":1},{"year":2011,"month":7,"date":1},{"year":2012,"month":1,"date":1},{"year":2012,"month":7,"date":1},{"year":2013,"month":1,"date":1}],"tickCount":30,"format":"%b '%y","labelExpr":"year(datum.value) >= 2013 ? '' : datum.label","labelOverlap":false,"ticks":true,"tickSize":2,"tickColor":"#888888","labelPadding":3,"title":null}},
  "y":{"field":"s","type":"quantitative","scale":{"domain":[-132.7,57.3],"nice":false,"zero":false},
       "axis":{"values":[-100,-50,0],"tickCount":10,"labelOverlap":false,"title":"MACD"}},
  "color":{"datum":"SIGNAL","type":"nominal","scale":{"domain":["(12, 26, 9 - EMA, EMA)","MACD","OSMA","SIGNAL"],"range":["#2d2d2d","#1ec81e","#1ec81e","#e41414"]},"legend":{"title":"MACD"}}}},
{"data":{"name":"i"},"mark":{"type":"line","strokeWidth":1.5},
 "encoding":{
  "x":{"field":"d","type":"temporal"},
  "y":{"field":"m","type":"quantitative"},
  "color":{"datum":"MACD","type":"nominal"}}}
]
}
]
}
